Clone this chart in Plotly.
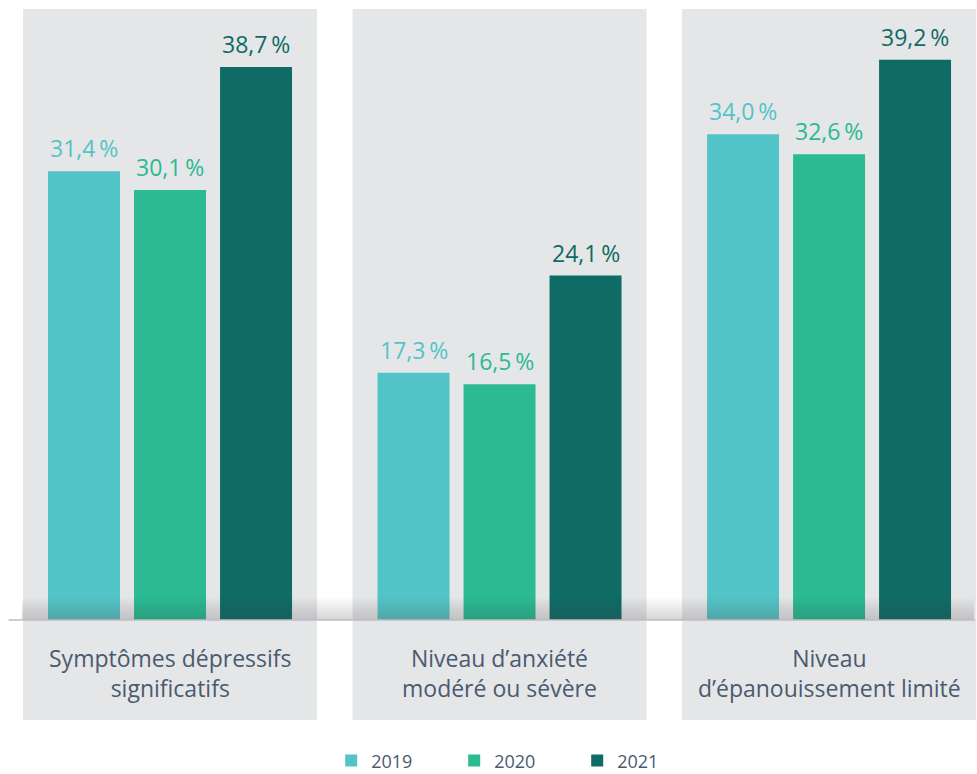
import plotly.graph_objects as go

categories = ["Symptômes dépressifs<br>significatifs",
              "Niveau d’anxiété<br>modéré ou sévère",
              "Niveau<br>d’épanouissement limité"]
years = ["2019", "2020", "2021"]
values_2019 = [31.4, 17.3, 34.0]
values_2020 = [30.1, 16.5, 32.6]
values_2021 = [38.7, 24.1, 39.2]

series = [values_2019, values_2020, values_2021]
colors = ["#52C4C7", "#2BBA92", "#0E6B66"]
text_color = "#4A5A6F"
panel_color = "#E5E6E8"
FONT = "Open Sans"

BARGAP = 0.217
BARGROUPGAP = 0.163
slot = (1 - BARGAP) / len(years)

def fmt(v):
    return f"{v:.1f}".replace(".", ",") + "\u2009%"

xs = list(range(len(categories)))

fig = go.Figure()
for k, (yr, vals, col) in enumerate(zip(years, series, colors)):
    fig.add_trace(go.Bar(x=xs, y=vals, name=yr, marker=dict(color=col, line=dict(width=0)),
                         hoverinfo="skip"))

shapes = []
# background panels
for i in xs:
    shapes.append(dict(type="rect", xref="x", yref="y", x0=i - 0.446, x1=i + 0.446,
                       y0=-7.0, y1=42.76, fillcolor=panel_color, line=dict(width=0),
                       layer="below"))
# shadow gradient above the baseline
n = 10
for j in range(1, n + 1):
    shapes.append(dict(type="rect", xref="x", yref="y", x0=-0.45, x1=2.44,
                       y0=0, y1=1.55 * j / n, fillcolor="rgba(80,80,95,0.024)",
                       line=dict(width=0), layer="above"))
# baseline
shapes.append(dict(type="line", xref="x", yref="y", x0=-0.49, x1=2.443, y0=0, y1=0,
                   line=dict(color="#BDBEC2", width=1.5), layer="above"))

annotations = []
for k, (vals, col) in enumerate(zip(series, colors)):
    off = -(1 - BARGAP) / 2 + slot * (k + 0.5)
    for i, v in zip(xs, vals):
        annotations.append(dict(x=i + off, y=v, xref="x", yref="y", text=fmt(v),
                                showarrow=False, yanchor="bottom", yshift=5,
                                font=dict(family=FONT, size=23, color=col)))
for i, c in zip(xs, categories):
    annotations.append(dict(x=i, y=-3.71, xref="x", yref="y", text=c, showarrow=False,
                            yanchor="middle", font=dict(family=FONT, size=23, color=text_color)))

fig.update_layout(
    width=977, height=774,
    margin=dict(l=0, r=0, t=0, b=0, autoexpand=False),
    paper_bgcolor="white", plot_bgcolor="white",
    barmode="group", bargap=BARGAP, bargroupgap=BARGROUPGAP,
    xaxis=dict(range=[-0.516, 2.449], visible=False, fixedrange=True),
    yaxis=dict(range=[-10.78, 43.39], visible=False, fixedrange=True),
    shapes=shapes, annotations=annotations,
    showlegend=True,
    legend=dict(orientation="h", x=0.339, xanchor="left", y=0.017, yanchor="middle",
                font=dict(family=FONT, size=18, color=text_color),
                entrywidth=78, entrywidthmode="pixels", bgcolor="rgba(0,0,0,0)"),
    font=dict(family=FONT),
)

fig.write_html("out.html", config={"displayModeBar": False},
               post_script="document.body.style.margin='0';")
